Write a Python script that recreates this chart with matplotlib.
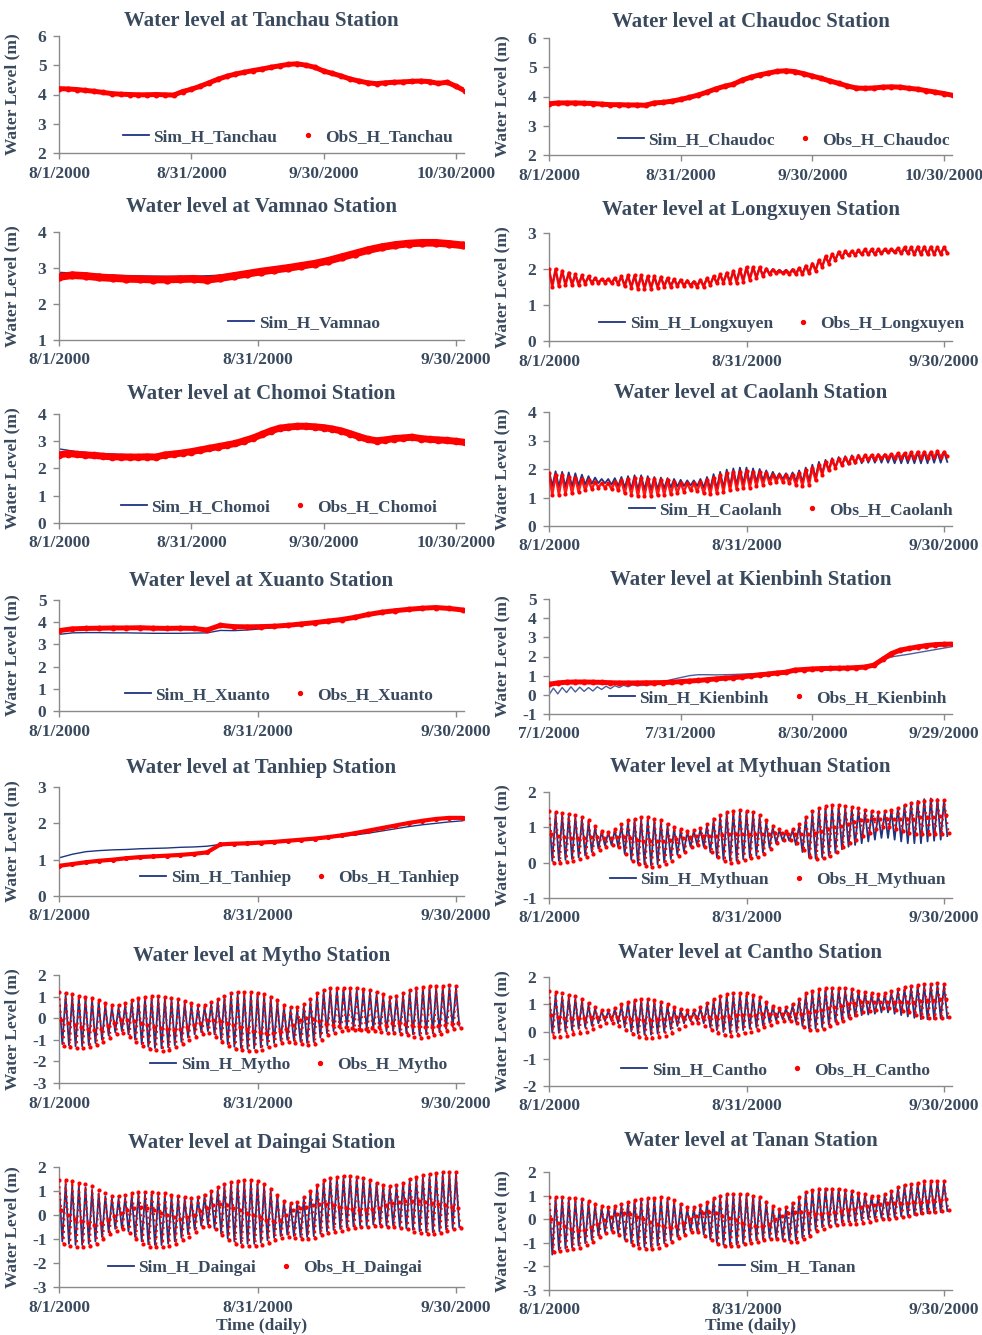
import numpy as np
import matplotlib
matplotlib.use("Agg")
from matplotlib import pyplot as plt
from matplotlib.lines import Line2D

plt.rcParams['font.family'] = ['Liberation Serif', 'DejaVu Serif']
plt.rcParams['font.weight'] = 'bold'
plt.rcParams['axes.unicode_minus'] = False

TXT = '#3a4a5e'
RED = '#ff0000'
NAVY = '#1f3480'

# ---------------- data (water level, m) ----------------
# smooth stations: values at evenly spaced days over the record
tanchau_obs = [4.20, 4.19, 4.17, 4.14, 4.11, 4.07, 4.03, 4.01, 4.00, 3.99,
               3.99, 4.00, 3.99, 3.98, 4.10, 4.18, 4.28, 4.40, 4.52, 4.62,
               4.70, 4.76, 4.82, 4.87, 4.93, 4.98, 5.03, 5.05, 5.00, 4.93,
               4.80, 4.72, 4.63, 4.53, 4.46, 4.40, 4.37, 4.40, 4.42, 4.43,
               4.45, 4.46, 4.44, 4.38, 4.42, 4.28, 4.13]
tanchau_sim = [4.18, 4.15, 4.09, 4.02, 3.99, 3.98, 3.98, 4.08, 4.26, 4.50, 4.69, 4.81,
               4.92, 5.02, 5.03, 4.85, 4.66, 4.48, 4.37, 4.41, 4.44, 4.43, 4.40, 4.12]
chaudoc_obs = [3.75, 3.78, 3.78, 3.78, 3.77, 3.76, 3.74, 3.72, 3.72, 3.71,
               3.71, 3.70, 3.78, 3.80, 3.84, 3.90, 3.97, 4.05, 4.15, 4.26,
               4.35, 4.42, 4.56, 4.66, 4.74, 4.80, 4.86, 4.88, 4.85, 4.78,
               4.70, 4.62, 4.53, 4.45, 4.36, 4.29, 4.28, 4.29, 4.32, 4.33,
               4.32, 4.28, 4.25, 4.20, 4.15, 4.10, 4.04]
chaudoc_sim = [3.76, 3.77, 3.76, 3.73, 3.71, 3.70, 3.77, 3.83, 3.96, 4.14, 4.34, 4.55,
               4.73, 4.85, 4.86, 4.70, 4.53, 4.36, 4.28, 4.31, 4.31, 4.25, 4.15, 4.04]
vamnao_obs = [2.75, 2.80, 2.78, 2.74, 2.72, 2.70, 2.69, 2.68, 2.68, 2.69,
              2.70, 2.67, 2.72, 2.78, 2.84, 2.90, 2.95, 3.00, 3.06, 3.12,
              3.20, 3.30, 3.40, 3.50, 3.58, 3.64, 3.68, 3.70, 3.70, 3.67, 3.63]
vamnao_sim = [2.88, 2.84, 2.80, 2.78, 2.77, 2.77, 2.80, 2.90, 2.98, 3.08, 3.22, 3.42,
              3.62, 3.72, 3.74, 3.66]
chomoi_obs = [2.50, 2.55, 2.52, 2.50, 2.48, 2.45, 2.43, 2.42, 2.42, 2.42,
              2.43, 2.42, 2.50, 2.53, 2.57, 2.62, 2.68, 2.74, 2.80, 2.86,
              2.92, 3.02, 3.12, 3.25, 3.38, 3.48, 3.52, 3.55, 3.55, 3.53,
              3.50, 3.45, 3.38, 3.28, 3.17, 3.07, 3.02, 3.05, 3.10, 3.12,
              3.15, 3.10, 3.07, 3.05, 3.03, 3.00, 2.96]
chomoi_sim = [2.72, 2.62, 2.56, 2.53, 2.51, 2.50, 2.52, 2.60, 2.70, 2.80, 2.95, 3.15,
              3.38, 3.50, 3.52, 3.46, 3.36, 3.18, 3.00, 3.04, 3.06, 3.02, 2.98, 2.88]
xuanto_obs = [3.62, 3.70, 3.72, 3.73, 3.74, 3.74, 3.75, 3.73, 3.72, 3.73,
              3.72, 3.65, 3.86, 3.80, 3.79, 3.80, 3.82, 3.86, 3.92, 3.98,
              4.05, 4.12, 4.22, 4.35, 4.45, 4.52, 4.58, 4.63, 4.66, 4.62, 4.55]
xuanto_sim = [3.45, 3.52, 3.53, 3.53, 3.52, 3.52, 3.51, 3.50, 3.50, 3.50,
              3.51, 3.52, 3.63, 3.62, 3.65, 3.70, 3.76, 3.84, 3.90, 3.97,
              4.04, 4.11, 4.21, 4.34, 4.44, 4.51, 4.57, 4.62, 4.65, 4.61, 4.54]
tanhiep_obs = [0.83, 0.88, 0.93, 0.97, 1.00, 1.04, 1.07, 1.09, 1.11, 1.13,
               1.16, 1.20, 1.42, 1.44, 1.45, 1.47, 1.49, 1.52, 1.55, 1.58,
               1.62, 1.67, 1.73, 1.80, 1.87, 1.94, 2.01, 2.07, 2.12, 2.15, 2.15]
tanhiep_sim = [1.05, 1.15, 1.22, 1.25, 1.27, 1.28, 1.30, 1.31, 1.32, 1.34,
               1.35, 1.37, 1.42, 1.44, 1.46, 1.48, 1.50, 1.52, 1.55, 1.57,
               1.60, 1.64, 1.68, 1.73, 1.79, 1.85, 1.91, 1.96, 2.00, 2.04, 2.07]
kienbinh_obs = [0.55, 0.62, 0.66, 0.67, 0.67, 0.66, 0.65, 0.63, 0.62, 0.62,
                0.62, 0.63, 0.63, 0.64, 0.66, 0.69, 0.72, 0.75, 0.79, 0.83,
                0.87, 0.90, 0.94, 0.99, 1.04, 1.09, 1.14, 1.18, 1.29, 1.32,
                1.35, 1.37, 1.38, 1.39, 1.40, 1.42, 1.45, 1.55, 1.85, 2.15,
                2.33, 2.42, 2.50, 2.57, 2.62, 2.64, 2.65]
# sim at Kienbinh: daily for the first 21 days, then every 2 days
kienbinh_sim_early = [0.00, 0.35, 0.05, 0.38, 0.12, 0.42, 0.15, 0.40, 0.18, 0.38, 0.20,
                      0.42, 0.28, 0.45, 0.32, 0.48, 0.38, 0.50, 0.42, 0.52, 0.48]
kienbinh_sim_late = [0.50, 0.55, 0.68, 0.80, 0.90, 1.00, 1.05, 1.05, 1.04, 1.05,
                     1.06, 1.08, 1.10, 1.12, 1.15, 1.18, 1.22, 1.28, 1.32, 1.35,
                     1.37, 1.38, 1.39, 1.40, 1.42, 1.45, 1.55, 1.80, 1.98, 2.05,
                     2.12, 2.20, 2.28, 2.36, 2.44, 2.52]

# tidal stations: daily high / low (and middle level for obs), days 0..60
longxuyen_obs_hi = [2.0, 2.0, 1.95, 1.9, 1.85, 1.82, 1.8, 1.75, 1.72, 1.72, 1.75,
                    1.8, 1.82, 1.82, 1.82, 1.8, 1.8, 1.78, 1.75, 1.72, 1.7,
                    1.68, 1.65, 1.7, 1.75, 1.8, 1.85, 1.9, 1.95, 2.0, 2.05, 2.05, 2.05,
                    2.0, 1.98, 1.95, 1.95, 1.98, 2.02, 2.08, 2.15,
                    2.25, 2.35, 2.42, 2.48, 2.5, 2.5, 2.52, 2.55,
                    2.55, 2.55, 2.55, 2.55, 2.58, 2.6, 2.6, 2.62, 2.62, 2.62, 2.6, 2.6]
longxuyen_obs_lo = [1.5, 1.52, 1.55, 1.55, 1.55, 1.58, 1.6, 1.6, 1.62, 1.6, 1.58,
                    1.52, 1.48, 1.45, 1.45, 1.45, 1.48, 1.5, 1.5, 1.52, 1.52,
                    1.52, 1.5, 1.5, 1.55, 1.6, 1.62, 1.62, 1.62, 1.65, 1.7, 1.75, 1.8,
                    1.85, 1.88, 1.88, 1.85, 1.85, 1.85, 1.88, 1.95,
                    2.05, 2.15, 2.25, 2.32, 2.38, 2.4, 2.42, 2.42,
                    2.42, 2.45, 2.48, 2.48, 2.45, 2.45, 2.42, 2.42, 2.42, 2.42, 2.42, 2.45]
longxuyen_sim_hi = [1.95, 1.95, 1.92, 1.88, 1.84, 1.8, 1.78, 1.74, 1.72, 1.72, 1.74,
                    1.78, 1.8, 1.8, 1.8, 1.79, 1.78, 1.76, 1.74, 1.72, 1.7,
                    1.68, 1.66, 1.7, 1.74, 1.78, 1.84, 1.88, 1.94, 1.98, 2.02, 2.04, 2.04,
                    2.02, 2.0, 1.98, 1.98, 2.0, 2.04, 2.1, 2.16,
                    2.25, 2.33, 2.4, 2.45, 2.48, 2.5, 2.5, 2.52,
                    2.52, 2.52, 2.53, 2.54, 2.55, 2.56, 2.58, 2.58, 2.6, 2.6, 2.6, 2.6]
longxuyen_sim_lo = [1.58, 1.58, 1.6, 1.6, 1.6, 1.62, 1.63, 1.64, 1.65, 1.63, 1.6,
                    1.56, 1.52, 1.5, 1.5, 1.5, 1.52, 1.54, 1.55, 1.56, 1.56,
                    1.56, 1.55, 1.55, 1.58, 1.62, 1.65, 1.66, 1.67, 1.7, 1.74, 1.78, 1.83,
                    1.88, 1.9, 1.9, 1.88, 1.88, 1.88, 1.9, 1.98,
                    2.08, 2.18, 2.26, 2.32, 2.36, 2.38, 2.4, 2.4,
                    2.4, 2.42, 2.44, 2.44, 2.42, 2.42, 2.4, 2.4, 2.4, 2.4, 2.42, 2.44]

caolanh_obs_hi = [1.85, 1.8, 1.78, 1.72, 1.7, 1.65, 1.6, 1.55, 1.5, 1.5, 1.55,
                  1.6, 1.65, 1.68, 1.68, 1.65, 1.65, 1.62, 1.6, 1.55, 1.52,
                  1.5, 1.5, 1.55, 1.62, 1.7, 1.78, 1.85, 1.9, 1.9, 1.92, 1.9, 1.88,
                  1.85, 1.8, 1.78, 1.78, 1.8, 1.85, 1.95, 2.05,
                  2.15, 2.25, 2.3, 2.35, 2.4, 2.42, 2.45, 2.48,
                  2.48, 2.5, 2.5, 2.52, 2.55, 2.55, 2.58, 2.6, 2.6, 2.6, 2.62, 2.6]
caolanh_obs_lo = [1.1, 1.1, 1.12, 1.15, 1.2, 1.25, 1.3, 1.35, 1.35, 1.3, 1.25,
                  1.15, 1.1, 1.05, 1.05, 1.05, 1.08, 1.1, 1.12, 1.15, 1.2,
                  1.25, 1.22, 1.15, 1.12, 1.15, 1.2, 1.25, 1.3, 1.32, 1.35, 1.4, 1.45,
                  1.5, 1.55, 1.55, 1.5, 1.45, 1.42, 1.45, 1.6,
                  1.8, 1.95, 2.05, 2.15, 2.2, 2.25, 2.3, 2.35,
                  2.35, 2.38, 2.4, 2.4, 2.4, 2.38, 2.38, 2.4, 2.4, 2.42, 2.42, 2.45]
caolanh_sim_hi = [1.95, 1.92, 1.9, 1.88, 1.85, 1.8, 1.75, 1.7, 1.65, 1.65, 1.68,
                  1.72, 1.75, 1.78, 1.78, 1.75, 1.72, 1.7, 1.68, 1.65, 1.62,
                  1.6, 1.6, 1.65, 1.72, 1.82, 1.9, 1.98, 2.02, 2.05, 2.05, 2.02, 2.0,
                  1.95, 1.9, 1.85, 1.85, 1.88, 1.95, 2.05, 2.15,
                  2.25, 2.32, 2.38, 2.42, 2.45, 2.48, 2.5, 2.5,
                  2.5, 2.52, 2.52, 2.52, 2.55, 2.55, 2.55, 2.58, 2.58, 2.6, 2.6, 2.6]
caolanh_sim_lo = [1.4, 1.38, 1.38, 1.4, 1.42, 1.45, 1.48, 1.5, 1.5, 1.45, 1.4,
                  1.35, 1.3, 1.28, 1.28, 1.28, 1.3, 1.32, 1.35, 1.38, 1.4,
                  1.42, 1.4, 1.35, 1.32, 1.32, 1.35, 1.4, 1.45, 1.48, 1.5, 1.55, 1.6,
                  1.62, 1.65, 1.65, 1.62, 1.58, 1.55, 1.58, 1.7,
                  1.85, 1.98, 2.05, 2.12, 2.15, 2.18, 2.2, 2.22,
                  2.22, 2.22, 2.22, 2.2, 2.2, 2.2, 2.2, 2.2, 2.2, 2.22, 2.22, 2.25]

mythuan_obs_hi = [1.45, 1.42, 1.4, 1.38, 1.35, 1.3, 1.2, 1.05, 0.9, 0.88, 0.95,
                  1.1, 1.2, 1.25, 1.28, 1.28, 1.25, 1.2, 1.1, 1.0, 0.95,
                  0.9, 0.92, 0.98, 1.1, 1.25, 1.35, 1.42, 1.45, 1.48, 1.45, 1.42, 1.35, 1.2,
                  1.05, 0.95, 0.9, 0.95, 1.1, 1.3, 1.45,
                  1.55, 1.6, 1.62, 1.62, 1.6, 1.58, 1.55, 1.5,
                  1.45, 1.42, 1.45, 1.5, 1.55, 1.62, 1.68, 1.72, 1.75, 1.78, 1.78, 1.78]
mythuan_obs_mid = [0.8, 0.75, 0.72, 0.7, 0.7, 0.7, 0.72, 0.72, 0.7, 0.7, 0.72,
                   0.72, 0.7, 0.65, 0.6, 0.6, 0.6, 0.62, 0.65, 0.68, 0.7,
                   0.72, 0.75, 0.75, 0.75, 0.75, 0.78, 0.8, 0.82, 0.82, 0.8, 0.8, 0.8, 0.82,
                   0.85, 0.85, 0.82, 0.8, 0.8, 0.8, 0.85,
                   0.9, 0.95, 1.0, 1.05, 1.1, 1.15, 1.2, 1.22,
                   1.25, 1.25, 1.25, 1.25, 1.25, 1.25, 1.25, 1.28, 1.3, 1.3, 1.32, 1.35]
mythuan_obs_lo = [0.0, 0.0, 0.02, 0.05, 0.1, 0.15, 0.25, 0.35, 0.45, 0.5, 0.45,
                  0.25, 0.05, -0.05, -0.1, -0.12, -0.1, -0.05, 0.05, 0.2, 0.3,
                  0.45, 0.5, 0.45, 0.3, 0.15, 0.05, 0.0, 0.02, 0.08, 0.12, 0.15, 0.25, 0.4,
                  0.55, 0.65, 0.65, 0.55, 0.35, 0.15, 0.1,
                  0.12, 0.2, 0.3, 0.45, 0.55, 0.65, 0.75, 0.85,
                  0.95, 1.0, 1.0, 0.95, 0.9, 0.85, 0.8, 0.8, 0.8, 0.8, 0.82, 0.85]
mythuan_sim_hi = [1.4, 1.38, 1.35, 1.32, 1.3, 1.25, 1.15, 1.0, 0.88, 0.85, 0.92,
                  1.05, 1.15, 1.2, 1.22, 1.22, 1.2, 1.15, 1.05, 0.98, 0.92,
                  0.88, 0.9, 0.95, 1.05, 1.2, 1.3, 1.38, 1.42, 1.45, 1.42, 1.38, 1.3, 1.15,
                  1.0, 0.92, 0.88, 0.92, 1.05, 1.25, 1.4,
                  1.5, 1.55, 1.58, 1.58, 1.55, 1.52, 1.5, 1.45,
                  1.4, 1.38, 1.42, 1.48, 1.55, 1.62, 1.7, 1.75, 1.8, 1.82, 1.8, 1.78]
mythuan_sim_lo = [0.05, 0.05, 0.08, 0.1, 0.15, 0.2, 0.3, 0.4, 0.48, 0.5, 0.45,
                  0.25, 0.08, -0.02, -0.05, -0.08, -0.05, 0.0, 0.1, 0.22, 0.32,
                  0.45, 0.5, 0.45, 0.3, 0.15, 0.08, 0.05, 0.05, 0.1, 0.15, 0.2, 0.28, 0.42,
                  0.55, 0.62, 0.62, 0.5, 0.3, 0.15, 0.12,
                  0.15, 0.2, 0.28, 0.38, 0.45, 0.5, 0.55, 0.6,
                  0.65, 0.7, 0.7, 0.65, 0.6, 0.55, 0.55, 0.55, 0.6, 0.62, 0.65, 0.75]

mytho_obs_hi = [1.2, 1.15, 1.1, 1.05, 1.0, 0.95, 0.85, 0.7, 0.6, 0.6, 0.7,
                0.85, 0.95, 1.0, 1.02, 1.02, 1.0, 0.95, 0.9, 0.8, 0.7,
                0.6, 0.62, 0.75, 0.9, 1.05, 1.15, 1.2, 1.2, 1.2, 1.18, 1.12, 1.0, 0.85,
                0.6, 0.5, 0.5, 0.65, 0.9, 1.15, 1.3,
                1.38, 1.42, 1.42, 1.4, 1.38, 1.35, 1.3, 1.2,
                1.1, 1.0, 1.05, 1.15, 1.3, 1.4, 1.45, 1.5, 1.5, 1.5, 1.52, 1.5]
mytho_obs_mid = [-0.1, -0.2, -0.3, -0.4, -0.5, -0.55, -0.5, -0.35, -0.2, -0.1, -0.1,
                 -0.15, -0.2, -0.3, -0.4, -0.45, -0.5, -0.55, -0.5, -0.4, -0.3,
                 -0.2, -0.1, -0.1, -0.15, -0.2, -0.3, -0.4, -0.5, -0.6, -0.65, -0.7, -0.7, -0.6,
                 -0.5, -0.3, -0.1, 0.0, -0.05, -0.15, -0.25,
                 -0.3, -0.35, -0.4, -0.45, -0.5, -0.5, -0.45, -0.4,
                 -0.3, -0.2, -0.2, -0.25, -0.3, -0.35, -0.4, -0.4, -0.35, -0.3, -0.25, -0.2]
mytho_obs_lo = [-1.3, -1.35, -1.4, -1.4, -1.35, -1.25, -1.1, -0.9, -0.75, -0.7, -0.85,
                -1.1, -1.3, -1.42, -1.48, -1.5, -1.45, -1.35, -1.2, -1.0, -0.85,
                -0.75, -0.7, -0.85, -1.1, -1.3, -1.42, -1.48, -1.52, -1.5, -1.45, -1.35, -1.25, -1.15,
                -1.1, -1.15, -1.2, -1.25, -1.2, -1.0, -0.8,
                -0.7, -0.6, -0.55, -0.55, -0.55, -0.6, -0.6, -0.65,
                -0.7, -0.7, -0.75, -0.8, -0.85, -0.9, -0.85, -0.8, -0.75, -0.6, -0.5, -0.45]
mytho_sim_hi = [1.1, 1.05, 1.0, 0.95, 0.9, 0.85, 0.75, 0.6, 0.5, 0.5, 0.6,
                0.75, 0.85, 0.9, 0.92, 0.92, 0.9, 0.85, 0.8, 0.7, 0.6,
                0.5, 0.52, 0.65, 0.8, 0.95, 1.05, 1.1, 1.1, 1.1, 1.08, 1.02, 0.9, 0.75,
                0.5, 0.4, 0.4, 0.55, 0.8, 1.05, 1.2,
                1.28, 1.32, 1.32, 1.3, 1.28, 1.25, 1.2, 1.1,
                1.0, 0.9, 0.95, 1.05, 1.2, 1.3, 1.35, 1.4, 1.4, 1.4, 1.42, 1.4]
mytho_sim_lo = [-1.2, -1.25, -1.3, -1.3, -1.25, -1.15, -1.0, -0.8, -0.65, -0.6, -0.75,
                -1.0, -1.2, -1.32, -1.38, -1.4, -1.35, -1.25, -1.1, -0.9, -0.75,
                -0.65, -0.6, -0.75, -1.0, -1.2, -1.32, -1.38, -1.42, -1.4, -1.35, -1.25, -1.15, -1.05,
                -1.0, -1.05, -1.1, -1.15, -1.1, -0.9, -0.7,
                -0.6, -0.5, -0.45, -0.45, -0.45, -0.5, -0.5, -0.55,
                -0.6, -0.6, -0.65, -0.7, -0.75, -0.8, -0.75, -0.7, -0.65, -0.5, -0.4, -0.35]

cantho_obs_hi = [1.5, 1.45, 1.4, 1.35, 1.3, 1.2, 1.05, 0.9, 0.8, 0.8, 0.88,
                 1.0, 1.1, 1.15, 1.18, 1.18, 1.15, 1.1, 1.0, 0.9, 0.82,
                 0.78, 0.8, 0.9, 1.05, 1.2, 1.3, 1.38, 1.4, 1.42, 1.4, 1.35, 1.25, 1.1,
                 0.95, 0.88, 0.9, 1.0, 1.2, 1.4, 1.5,
                 1.55, 1.6, 1.6, 1.6, 1.58, 1.55, 1.5, 1.45,
                 1.4, 1.38, 1.4, 1.48, 1.55, 1.62, 1.68, 1.72, 1.75, 1.75, 1.78, 1.75]
cantho_obs_mid = [0.6, 0.55, 0.5, 0.5, 0.5, 0.5, 0.55, 0.55, 0.55, 0.55, 0.55,
                  0.5, 0.45, 0.45, 0.42, 0.42, 0.45, 0.45, 0.5, 0.55, 0.55,
                  0.55, 0.55, 0.55, 0.55, 0.55, 0.55, 0.55, 0.6, 0.6, 0.62, 0.62, 0.65, 0.65,
                  0.65, 0.65, 0.65, 0.65, 0.65, 0.7, 0.75,
                  0.8, 0.85, 0.9, 0.95, 1.0, 1.05, 1.1, 1.1,
                  1.1, 1.1, 1.1, 1.1, 1.1, 1.1, 1.1, 1.12, 1.15, 1.15, 1.18, 1.2]
cantho_obs_lo = [-0.2, -0.2, -0.15, -0.1, -0.05, 0.0, 0.1, 0.2, 0.3, 0.3, 0.2,
                 0.05, -0.1, -0.2, -0.25, -0.25, -0.2, -0.15, -0.05, 0.1, 0.2,
                 0.3, 0.3, 0.2, 0.05, -0.05, -0.12, -0.15, -0.12, -0.05, 0.0, 0.05, 0.15, 0.25,
                 0.35, 0.4, 0.38, 0.3, 0.15, 0.05, 0.05,
                 0.1, 0.2, 0.3, 0.4, 0.5, 0.6, 0.7, 0.75,
                 0.8, 0.85, 0.85, 0.8, 0.75, 0.7, 0.62, 0.55, 0.5, 0.5, 0.5, 0.55]
cantho_sim_hi = [1.35, 1.32, 1.28, 1.25, 1.2, 1.1, 0.98, 0.85, 0.75, 0.75, 0.82,
                 0.95, 1.05, 1.1, 1.12, 1.12, 1.1, 1.05, 0.95, 0.85, 0.78,
                 0.72, 0.75, 0.85, 1.0, 1.12, 1.22, 1.3, 1.32, 1.35, 1.32, 1.28, 1.18, 1.05,
                 0.9, 0.82, 0.85, 0.95, 1.15, 1.32, 1.42,
                 1.48, 1.52, 1.52, 1.52, 1.5, 1.48, 1.45, 1.4,
                 1.35, 1.32, 1.35, 1.42, 1.5, 1.55, 1.6, 1.65, 1.68, 1.7, 1.72, 1.7]
cantho_sim_lo = [-0.05, -0.05, 0.0, 0.05, 0.1, 0.15, 0.22, 0.3, 0.38, 0.38, 0.3,
                 0.15, 0.0, -0.08, -0.12, -0.12, -0.08, -0.02, 0.08, 0.2, 0.3,
                 0.38, 0.38, 0.3, 0.15, 0.05, -0.02, -0.05, -0.02, 0.05, 0.1, 0.15, 0.22, 0.32,
                 0.4, 0.45, 0.42, 0.35, 0.2, 0.1, 0.1,
                 0.15, 0.25, 0.35, 0.42, 0.5, 0.55, 0.6, 0.62,
                 0.65, 0.7, 0.7, 0.65, 0.6, 0.55, 0.5, 0.45, 0.45, 0.45, 0.48, 0.5]

daingai_obs_hi = [1.45, 1.45, 1.4, 1.35, 1.3, 1.2, 1.05, 0.9, 0.8, 0.78, 0.82,
                  0.9, 0.95, 0.95, 0.95, 0.92, 0.9, 0.85, 0.8, 0.75, 0.72,
                  0.75, 0.85, 1.0, 1.15, 1.3, 1.38, 1.42, 1.45, 1.45, 1.4, 1.3, 1.1, 0.85,
                  0.6, 0.5, 0.55, 0.75, 1.0, 1.25, 1.45,
                  1.55, 1.6, 1.62, 1.62, 1.6, 1.55, 1.45, 1.35,
                  1.25, 1.2, 1.25, 1.35, 1.5, 1.6, 1.65, 1.7, 1.75, 1.78, 1.8, 1.78]
daingai_obs_mid = [0.2, 0.0, -0.15, -0.25, -0.35, -0.4, -0.35, -0.2, -0.05, 0.1, 0.2,
                   0.3, 0.35, 0.3, 0.2, 0.1, 0.0, -0.1, -0.15, -0.1, 0.0,
                   0.15, 0.3, 0.4, 0.45, 0.4, 0.3, 0.2, 0.1, 0.0, -0.1, -0.2, -0.25, -0.2,
                   0.0, 0.2, 0.3, 0.35, 0.4, 0.45, 0.45,
                   0.4, 0.35, 0.3, 0.25, 0.2, 0.2, 0.25, 0.3,
                   0.4, 0.5, 0.55, 0.6, 0.6, 0.6, 0.55, 0.5, 0.45, 0.4, 0.35, 0.3]
daingai_obs_lo = [-1.2, -1.3, -1.35, -1.35, -1.3, -1.2, -1.0, -0.8, -0.65, -0.6, -0.75,
                  -1.0, -1.2, -1.32, -1.35, -1.35, -1.3, -1.2, -1.05, -0.9, -0.7,
                  -0.5, -0.45, -0.6, -0.85, -1.05, -1.2, -1.28, -1.3, -1.3, -1.25, -1.15, -1.05, -0.95,
                  -0.9, -0.95, -1.0, -1.0, -0.95, -0.85, -0.75,
                  -0.7, -0.65, -0.6, -0.55, -0.5, -0.5, -0.45, -0.45,
                  -0.5, -0.5, -0.55, -0.6, -0.7, -0.75, -0.8, -0.8, -0.75, -0.65, -0.6, -0.55]
daingai_sim_hi = [1.3, 1.3, 1.25, 1.2, 1.15, 1.05, 0.9, 0.78, 0.7, 0.68, 0.72,
                  0.8, 0.85, 0.85, 0.85, 0.82, 0.8, 0.75, 0.72, 0.68, 0.65,
                  0.68, 0.78, 0.92, 1.05, 1.2, 1.28, 1.32, 1.35, 1.35, 1.3, 1.2, 1.0, 0.78,
                  0.55, 0.45, 0.5, 0.7, 0.95, 1.2, 1.38,
                  1.48, 1.52, 1.55, 1.55, 1.52, 1.48, 1.4, 1.3,
                  1.2, 1.15, 1.2, 1.3, 1.42, 1.5, 1.55, 1.6, 1.65, 1.68, 1.7, 1.68]
daingai_sim_lo = [-1.1, -1.2, -1.25, -1.25, -1.2, -1.1, -0.92, -0.72, -0.58, -0.55, -0.68,
                  -0.92, -1.1, -1.22, -1.25, -1.25, -1.2, -1.1, -0.95, -0.8, -0.62,
                  -0.45, -0.4, -0.55, -0.78, -0.98, -1.1, -1.18, -1.2, -1.2, -1.15, -1.05, -0.95, -0.88,
                  -0.82, -0.88, -0.92, -0.92, -0.88, -0.78, -0.68,
                  -0.62, -0.58, -0.52, -0.48, -0.45, -0.45, -0.4, -0.4,
                  -0.45, -0.45, -0.5, -0.55, -0.62, -0.68, -0.72, -0.72, -0.68, -0.6, -0.55, -0.5]

tanan_obs_hi = [0.95, 0.95, 0.92, 0.9, 0.88, 0.85, 0.78, 0.65, 0.55, 0.5, 0.55,
                0.65, 0.75, 0.82, 0.85, 0.88, 0.9, 0.92, 0.9, 0.8, 0.65,
                0.5, 0.5, 0.6, 0.75, 0.9, 1.0, 1.05, 1.08, 1.08, 1.05, 1.0, 0.92, 0.75,
                0.55, 0.45, 0.5, 0.7, 0.95, 1.15, 1.25,
                1.3, 1.3, 1.3, 1.28, 1.25, 1.2, 1.12, 1.05,
                1.0, 0.98, 1.05, 1.2, 1.35, 1.45, 1.5, 1.55, 1.6, 1.62, 1.62, 1.6]
tanan_obs_mid = [0.0, -0.15, -0.3, -0.4, -0.45, -0.45, -0.35, -0.2, -0.05, 0.1, 0.2,
                 0.25, 0.2, 0.1, 0.0, -0.1, -0.2, -0.3, -0.35, -0.3, -0.15,
                 0.0, 0.15, 0.25, 0.3, 0.25, 0.15, 0.05, -0.05, -0.15, -0.25, -0.3, -0.3, -0.2,
                 0.0, 0.15, 0.25, 0.3, 0.3, 0.25, 0.2,
                 0.2, 0.25, 0.3, 0.35, 0.4, 0.45, 0.5, 0.55,
                 0.6, 0.65, 0.7, 0.7, 0.7, 0.7, 0.72, 0.75, 0.78, 0.8, 0.82, 0.85]
tanan_obs_lo = [-1.4, -1.35, -1.3, -1.28, -1.2, -1.1, -0.95, -0.75, -0.6, -0.55, -0.65,
                -0.9, -1.1, -1.2, -1.25, -1.25, -1.2, -1.1, -0.95, -0.8, -0.65,
                -0.55, -0.55, -0.7, -0.9, -1.05, -1.12, -1.15, -1.12, -1.05, -1.0, -0.95, -0.9, -0.85,
                -0.85, -0.9, -0.95, -0.95, -0.85, -0.7, -0.5,
                -0.4, -0.3, -0.25, -0.2, -0.2, -0.2, -0.15, -0.1,
                -0.05, 0.0, 0.0, 0.05, 0.1, 0.15, 0.2, 0.25, 0.3, 0.32, 0.35, 0.4]
tanan_sim_hi = [0.85, 0.88, 0.85, 0.82, 0.8, 0.78, 0.7, 0.58, 0.48, 0.45, 0.5,
                0.6, 0.7, 0.78, 0.8, 0.82, 0.85, 0.85, 0.82, 0.72, 0.58,
                0.45, 0.45, 0.55, 0.7, 0.85, 0.95, 1.0, 1.02, 1.02, 1.0, 0.95, 0.88, 0.7,
                0.5, 0.4, 0.45, 0.65, 0.9, 1.1, 1.2,
                1.25, 1.28, 1.3, 1.28, 1.22, 1.18, 1.1, 1.02,
                0.95, 0.92, 1.0, 1.15, 1.3, 1.4, 1.45, 1.5, 1.55, 1.55, 1.58, 1.55]
tanan_sim_lo = [-1.5, -1.3, -1.25, -1.2, -1.12, -1.02, -0.88, -0.7, -0.55, -0.5, -0.6,
                -0.85, -1.02, -1.12, -1.18, -1.18, -1.12, -1.02, -0.9, -0.75, -0.6,
                -0.5, -0.5, -0.65, -0.85, -1.0, -1.08, -1.1, -1.08, -1.02, -0.95, -0.9, -0.85, -0.8,
                -0.8, -0.85, -0.9, -0.9, -0.8, -0.65, -0.45,
                -0.35, -0.25, -0.2, -0.15, -0.12, -0.1, -0.05, 0.0,
                0.02, 0.05, 0.05, 0.08, 0.12, 0.15, 0.18, 0.22, 0.25, 0.28, 0.3, 0.35]

ticks92 = ["8/1/2000", "8/31/2000", "9/30/2000", "10/30/2000"]
ticks61 = ["8/1/2000", "8/31/2000", "9/30/2000"]
ticks_kb = ["7/1/2000", "7/31/2000", "8/30/2000", "9/29/2000"]

# ---------------- layout (pixels) ----------------
W, H = 982, 1335
fig = plt.figure(figsize=(W / 100, H / 100), dpi=100)
fig.patch.set_facecolor('white')

COLS = {0: (59, 464, 397), 1: (549, 952, 395)}  # left, right, tick span


def smooth(vals, ndays):
    return np.linspace(0, ndays, len(vals)), vals


def tide(hi, lo, mid=None):
    xs, ys = [], []
    for i, (h, l) in enumerate(zip(hi, lo)):
        if mid is not None:
            xs += [i, i + 0.35, i + 0.7]
            ys += [h, mid[i], l]
        else:
            xs += [i, i + 0.5]
            ys += [h, l]
    return xs, ys


def panel(col, top, bottom, ylim, ticklabels, title, title_y, sim_lab, obs_lab, leg_xy):
    left, right, span = COLS[col]
    ax = fig.add_axes([left / W, 1 - bottom / H, (right - left) / W, (bottom - top) / H])
    last = 30 * (len(ticklabels) - 1)
    ax.set_xlim(0, last * (right - left) / span)
    ax.set_ylim(*ylim)
    ax.set_xticks([30 * i for i in range(len(ticklabels))])
    ax.set_xticklabels(ticklabels)
    ax.set_yticks(range(ylim[0], ylim[1] + 1))
    for s in ['top', 'right']:
        ax.spines[s].set_visible(False)
    for s in ['left', 'bottom']:
        ax.spines[s].set_color('#8a8a8a')
        ax.spines[s].set_linewidth(1.0)
    ax.tick_params(axis='both', direction='out', length=4, width=1, color='#8a8a8a',
                   labelsize=12.5, labelcolor=TXT)
    ax.tick_params(axis='y', pad=5)
    ax.tick_params(axis='x', pad=5)
    ax.set_ylabel("Water Level (m)", fontsize=12.5, color=TXT, fontweight='bold')
    ax.yaxis.set_label_coords(-39 / (right - left), 0.5)
    fig.text((left + right) / 2 / W, 1 - title_y / H, title, ha='center', va='center',
             fontsize=15, fontweight='bold', color=TXT)
    handles = [Line2D([], [], color=NAVY, lw=1.3)]
    labels = [sim_lab]
    if obs_lab:
        handles.append(Line2D([], [], color=RED, marker='o', ms=2.8, ls='none'))
        labels.append(obs_lab)
    ax.legend(handles, labels, loc='center', ncol=2, frameon=False,
              bbox_to_anchor=(leg_xy[0] / W, 1 - leg_xy[1] / H), bbox_transform=fig.transFigure,
              fontsize=12.5, labelcolor=TXT, handlelength=1.5, handletextpad=0.25,
              columnspacing=1.0, borderpad=0, borderaxespad=0)
    return ax


def draw_smooth(ax, sim, obs, ndays, lw):
    sx, sy = smooth(sim, ndays)
    ox, oy = smooth(obs, ndays)
    ax.plot(sx, sy, color=NAVY, lw=1.0, zorder=2)
    ax.plot(ox, oy, color=RED, lw=lw, solid_capstyle='round', zorder=3)
    ax.plot(ox, oy, 'o', color=RED, ms=lw * 0.9, zorder=3)


def draw_tide(ax, sim_hi, sim_lo, obs_hi, obs_lo, obs_mid=None, obs_line=False):
    sx, sy = tide(sim_hi, sim_lo)
    ox, oy = tide(obs_hi, obs_lo, obs_mid)
    ax.plot(sx, sy, color=NAVY, lw=1.3, zorder=2)
    if obs_line:
        ax.plot(ox, oy, color=RED, lw=1.8, alpha=0.9, zorder=3)
    else:
        # hourly observations read as a dotted trace along each tide
        ax.plot(ox, oy, color=RED, lw=1.4, ls=(0, (1, 2.2)), zorder=3)
    ax.plot(ox, oy, 'o', color=RED, ms=3.0, mew=0, zorder=3)


def bottom_label(col):
    left, right, _ = COLS[col]
    fig.text((left + right) / 2 / W, 1 - 1326 / H, "Time (daily)", ha='center', va='center',
             fontsize=12.5, fontweight='bold', color=TXT)


# row 1
ax = panel(0, 36, 153, (2, 6), ticks92, "Water level at Tanchau Station", 21,
           "Sim_H_Tanchau", "ObS_H_Tanchau", (288, 137))
draw_smooth(ax, tanchau_sim, tanchau_obs, 92, 3.6)
ax = panel(1, 38, 155, (2, 6), ticks92, "Water level at Chaudoc Station", 22,
           "Sim_H_Chaudoc", "Obs_H_Chaudoc", (784, 140))
draw_smooth(ax, chaudoc_sim, chaudoc_obs, 92, 3.6)

# row 2
ax = panel(0, 232, 340, (1, 4), ticks61, "Water level at Vamnao Station", 207,
           "Sim_H_Vamnao", None, (304, 323))
draw_smooth(ax, vamnao_sim, vamnao_obs, 61, 5.5)
ax = panel(1, 233, 341, (0, 3), ticks61, "Water level at Longxuyen Station", 210,
           "Sim_H_Longxuyen", "Obs_H_Longxuyen", (782, 324))
draw_tide(ax, longxuyen_sim_hi, longxuyen_sim_lo, longxuyen_obs_hi, longxuyen_obs_lo,
          obs_line=True)

# row 3
ax = panel(0, 414, 523, (0, 4), ticks92, "Water level at Chomoi Station", 394,
           "Sim_H_Chomoi", "Obs_H_Chomoi", (279, 507))
draw_smooth(ax, chomoi_sim, chomoi_obs, 92, 5.0)
ax = panel(1, 412, 526, (0, 4), ticks61, "Water level at Caolanh Station", 393,
           "Sim_H_Caolanh", "Obs_H_Caolanh", (791, 510))
draw_tide(ax, caolanh_sim_hi, caolanh_sim_lo, caolanh_obs_hi, caolanh_obs_lo, obs_line=True)

# row 4
ax = panel(0, 600, 711, (0, 5), ticks61, "Water level at Xuanto Station", 581,
           "Sim_H_Xuanto", "Obs_H_Xuanto", (279, 695))
draw_smooth(ax, xuanto_sim, xuanto_obs, 61, 3.6)
ax = panel(1, 599, 714, (-1, 5), ticks_kb, "Water level at Kienbinh Station", 580,
           "Sim_H_Kienbinh", "Obs_H_Kienbinh", (778, 698))
kx = list(range(len(kienbinh_sim_early))) + list(range(22, 22 + 2 * len(kienbinh_sim_late), 2))
ax.plot(kx, kienbinh_sim_early + kienbinh_sim_late, color='#4a5f9c', lw=1.0, zorder=2)
ox, oy = smooth(kienbinh_obs, 92)
ax.plot(ox, oy, color=RED, lw=3.6, solid_capstyle='round', zorder=3)
ax.plot(ox, oy, 'o', color=RED, ms=3.2, zorder=3)

# row 5
ax = panel(0, 787, 896, (0, 3), ticks61, "Water level at Tanhiep Station", 768,
           "Sim_H_Tanhiep", "Obs_H_Tanhiep", (300, 878))
draw_smooth(ax, tanhiep_sim, tanhiep_obs, 61, 3.0)
ax = panel(1, 792, 898, (-1, 2), ticks61, "Water level at Mythuan Station", 767,
           "Sim_H_Mythuan", "Obs_H_Mythuan", (778, 880))
draw_tide(ax, mythuan_sim_hi, mythuan_sim_lo, mythuan_obs_hi, mythuan_obs_lo, mythuan_obs_mid)

# row 6
ax = panel(0, 975, 1083, (-3, 2), ticks61, "Water level at Mytho Station", 956,
           "Sim_H_Mytho", "Obs_H_Mytho", (299, 1065))
draw_tide(ax, mytho_sim_hi, mytho_sim_lo, mytho_obs_hi, mytho_obs_lo, mytho_obs_mid)
ax = panel(1, 977, 1086, (-2, 2), ticks61, "Water level at Cantho Station", 953,
           "Sim_H_Cantho", "Obs_H_Cantho", (776, 1070))
draw_tide(ax, cantho_sim_hi, cantho_sim_lo, cantho_obs_hi, cantho_obs_lo, cantho_obs_mid)

# row 7
ax = panel(0, 1167, 1287, (-3, 2), ticks61, "Water level at Daingai Station", 1143,
           "Sim_H_Daingai", "Obs_H_Daingai", (265, 1268))
draw_tide(ax, daingai_sim_hi, daingai_sim_lo, daingai_obs_hi, daingai_obs_lo, daingai_obs_mid)
bottom_label(0)
ax = panel(1, 1172, 1290, (-3, 2), ticks61, "Water level at Tanan Station", 1141,
           "Sim_H_Tanan", None, (787, 1267))
draw_tide(ax, tanan_sim_hi, tanan_sim_lo, tanan_obs_hi, tanan_obs_lo, tanan_obs_mid)
bottom_label(1)

fig.savefig("out.png", dpi=100, facecolor='white')
